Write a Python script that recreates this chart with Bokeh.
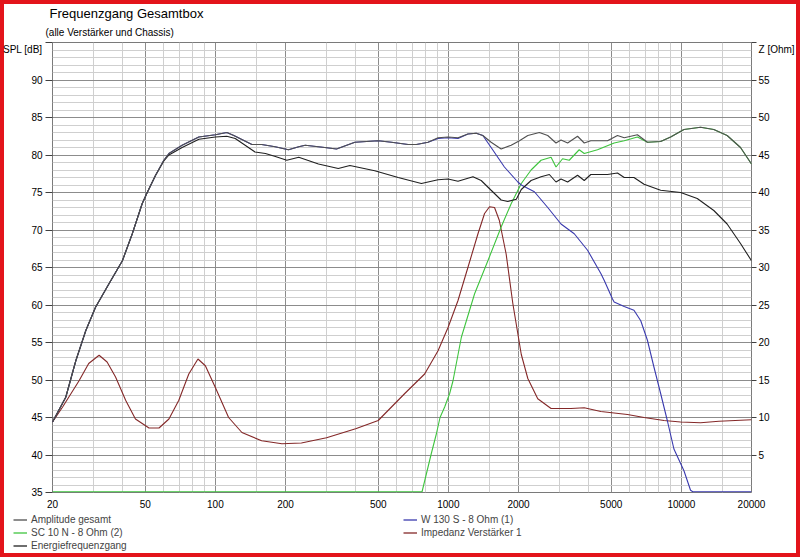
from bokeh.plotting import figure
from bokeh.layouts import column
from bokeh.models import (Range1d, LinearAxis, FixedTicker, Legend, LegendItem,
                          Title, BasicTickFormatter)
from bokeh.embed import file_html
from bokeh.resources import INLINE

# ---------------- data ----------------
X_TICKS = [20, 50, 100, 200, 500, 1000, 2000, 5000, 10000, 20000]
X_MINOR = [30, 40, 60, 70, 80, 90, 150, 300, 400, 600, 700, 800, 900, 1500,
           3000, 4000, 6000, 7000, 8000, 9000, 15000]
SPL_TICKS = [35, 40, 45, 50, 55, 60, 65, 70, 75, 80, 85, 90]
Z_TICKS = [5, 10, 15, 20, 25, 30, 35, 40, 45, 50, 55]

amp_f = [20, 22.8, 25.2, 27.8, 30.6, 34.9, 39.9, 44, 48.5, 51, 55.4, 60.1, 63.2, 72,
         84.9, 100, 112, 120, 143.5, 158, 180.6, 206, 228, 243, 295, 331, 397, 500,
         570, 672, 729, 818, 903, 997, 1100, 1213, 1317, 1406, 1526, 1685, 1860, 2019,
         2193, 2458, 2670, 2897, 3044, 3250, 3585, 3830, 4087, 4820, 5319, 5685, 6477,
         7150, 8148, 8994, 10260, 12087, 13780, 15720, 17940, 20000]
amp_db = [44.4, 47.7, 52.6, 56.6, 59.7, 62.8, 65.9, 69.5, 73.5, 75.0, 77.3, 79.3, 80.2,
          81.3, 82.4, 82.7, 83.0, 82.6, 81.4, 81.4, 81.1, 80.7, 81.1, 81.3, 81.0, 80.8,
          81.7, 81.9, 81.7, 81.4, 81.4, 81.7, 82.3, 82.4, 82.3, 82.8, 82.9, 82.6, 81.7,
          80.8, 81.3, 81.9, 82.6, 83.0, 82.6, 81.6, 82.0, 81.6, 82.5, 81.6, 81.9, 81.9,
          82.6, 82.3, 82.7, 81.7, 81.8, 82.4, 83.4, 83.7, 83.4, 82.6, 81.0, 78.8]

en_f = [20, 22.8, 25.2, 27.8, 30.6, 34.9, 39.9, 44, 48.5, 51, 55.4, 60.1, 63.2, 72, 85,
        100, 112, 121.7, 148, 164, 181, 202.6, 228, 277, 337, 378, 483, 609, 766, 903,
        997, 1100, 1275, 1383, 1526, 1685, 1799, 1957, 2056, 2265, 2499, 2713, 2897,
        3044, 3250, 3585, 3830, 4087, 4820, 5319, 5685, 6259, 6917, 8148, 9930, 11700,
        13780, 15720, 17940, 20000]
en_db = [44.4, 47.7, 52.6, 56.6, 59.7, 62.8, 65.9, 69.5, 73.5, 75.0, 77.3, 79.2, 80.0,
         81.0, 82.1, 82.4, 82.5, 82.2, 80.4, 80.2, 79.8, 79.3, 79.7, 78.8, 78.2, 78.6,
         77.9, 77.0, 76.2, 76.7, 76.8, 76.5, 77.1, 76.6, 75.3, 74.0, 73.8, 74.1, 75.4,
         76.6, 77.1, 77.4, 76.4, 76.8, 76.4, 77.3, 76.6, 77.4, 77.4, 77.6, 77.0, 77.0,
         76.1, 75.3, 75.0, 74.2, 72.6, 70.8, 68.2, 65.9]

w130_f = [20, 22.8, 25.2, 27.8, 30.6, 34.9, 39.9, 44, 48.5, 51, 55.4, 60.1, 63.2, 72,
          84.9, 100, 112, 120, 143.5, 158, 180.6, 206, 228, 243, 295, 331, 397, 500,
          570, 672, 729, 818, 903, 997, 1100, 1213, 1317, 1406, 1526, 1740, 1987, 2056,
          2340, 2670, 3044, 3470, 3958, 4513, 4663, 5064, 5146, 5685, 6259, 6695, 7150,
          7630, 8148, 8702, 9292, 10260, 10950, 11200, 20000]
w130_db = [44.4, 47.7, 52.6, 56.6, 59.7, 62.8, 65.9, 69.5, 73.5, 75.0, 77.3, 79.3, 80.2,
           81.3, 82.4, 82.7, 83.0, 82.6, 81.4, 81.4, 81.1, 80.7, 81.1, 81.3, 81.0, 80.8,
           81.7, 81.9, 81.7, 81.4, 81.4, 81.7, 82.2, 82.3, 82.2, 82.8, 82.9, 82.6, 81.0,
           78.4, 76.4, 76.0, 75.1, 73.0, 70.8, 69.5, 67.3, 64.2, 63.3, 60.8, 60.4, 59.8,
           59.3, 57.9, 55.3, 51.7, 48.2, 44.6, 40.8, 37.9, 35.3, 35.1, 35.1]

sc10_f = [20, 771, 845, 888, 921, 964, 1013, 1047, 1137, 1296, 1478, 1685, 1860, 2056,
          2265, 2499, 2759, 2897, 3092, 3302, 3644, 3830, 4366, 5146, 5685, 6477, 7150,
          8148, 8994, 10260, 12087, 13780, 15720, 17940, 20000]
sc10_db = [35.1, 35.1, 40.2, 42.8, 45.0, 46.4, 48.2, 49.9, 55.7, 61.5, 65.9, 70.4, 73.5,
           76.2, 78.0, 79.3, 79.7, 78.4, 79.5, 79.3, 80.7, 80.2, 80.7, 81.6, 81.9, 82.4,
           81.7, 81.8, 82.4, 83.4, 83.7, 83.4, 82.6, 81.0, 78.8]

imp_f = [20, 22.1, 26, 28.6, 31.7, 34.3, 37.3, 41.2, 45.4, 51.9, 57.3, 63.2, 69.7, 76.9,
         84.2, 90.6, 100, 114, 130, 158, 193, 234, 300, 400, 500, 650, 791, 903, 997,
         1100, 1213, 1340, 1430, 1502, 1578, 1654, 1770, 1891, 2056, 2193, 2419, 2759,
         3360, 3830, 4513, 5870, 6917, 8420, 9930, 12087, 14500, 20000]
imp_ohm = [9.4, 11.4, 14.9, 17.2, 18.3, 17.4, 15.4, 12.3, 9.8, 8.6, 8.6, 9.8, 12.3, 15.8,
           17.8, 16.9, 14.0, 10.0, 8.0, 6.9, 6.5, 6.6, 7.3, 8.5, 9.6, 13.2, 15.8, 18.9,
           22.0, 25.6, 30.0, 34.5, 37.2, 38.1, 38.0, 36.3, 31.8, 25.2, 18.4, 15.2, 12.5,
           11.2, 11.2, 11.3, 10.8, 10.4, 10.0, 9.6, 9.4, 9.3, 9.5, 9.7]

TITLE = "Frequenzgang Gesamtbox"
SUBTITLE = "(alle Verstärker und Chassis)"
SPL_LABEL = "SPL [dB]"
Z_LABEL = "Z [Ohm]"

SERIES = [  # legend label, colour
    ("Amplitude gesamt", "#505050"),
    ("SC 10 N - 8 Ohm (2)", "#3ec43e"),
    ("Energiefrequenzgang", "#202020"),
    ("W 130 S - 8 Ohm (1)", "#3a3aae"),
    ("Impedanz Verstärker 1", "#842828"),
]
COL = dict(SERIES)

FONT = "Liberation Sans"
MAJOR_GRID = "#8c8c8c"
MINOR_GRID = "#cfcfcf"

# ---------------- main chart ----------------
p1 = figure(width=800, height=512, x_axis_type="log", x_range=(20, 20000),
            y_range=(35, 95), output_backend="svg", toolbar_location=None,
            min_border_left=50, min_border_right=49, min_border_top=42,
            min_border_bottom=20, background_fill_color="white",
            border_fill_color="white", border_fill_alpha=0.0,
            outline_line_color="#7a7a7a")
p1.extra_y_ranges = {"z": Range1d(0, 60)}

xa = p1.xaxis[0]
xa.ticker = FixedTicker(ticks=X_TICKS)
xa.formatter = BasicTickFormatter(use_scientific=False)
xa.major_tick_out = 0
xa.major_tick_in = 0
xa.minor_tick_line_color = None
xa.axis_line_color = None
xa.major_label_standoff = 7
xa.major_label_text_font = FONT
xa.major_label_text_font_size = "10px"
xa.major_label_text_color = "black"

ya = p1.yaxis[0]
ya.ticker = FixedTicker(ticks=SPL_TICKS + [95])
ya.major_label_overrides = {95: "\u00a0\n" + SPL_LABEL}
ya.major_tick_out = 7
ya.major_tick_in = 0
ya.major_tick_line_color = "#404040"
ya.minor_tick_line_color = None
ya.axis_line_color = None
ya.major_label_standoff = 3
ya.major_label_text_font = FONT
ya.major_label_text_font_size = "10px"
ya.major_label_text_color = "black"

za = LinearAxis(y_range_name="z", ticker=FixedTicker(ticks=Z_TICKS + [60]),
                major_label_overrides={60: "\u00a0\n" + Z_LABEL},
                major_tick_out=5, major_tick_in=0, major_tick_line_color="#404040",
                minor_tick_line_color=None, axis_line_color=None,
                major_label_standoff=2, major_label_text_font=FONT,
                major_label_text_font_size="10px", major_label_text_color="black")
p1.add_layout(za, "right")

p1.xgrid.ticker = FixedTicker(ticks=X_TICKS, minor_ticks=X_MINOR)
p1.xgrid.grid_line_color = MAJOR_GRID
p1.xgrid.minor_grid_line_color = MINOR_GRID
p1.ygrid.ticker = FixedTicker(ticks=SPL_TICKS + [95],
                              minor_ticks=[v for v in range(36, 95) if v % 5])
p1.ygrid.grid_line_color = MAJOR_GRID
p1.ygrid.minor_grid_line_color = MINOR_GRID

p1.line(imp_f, imp_ohm, y_range_name="z", line_color=COL["Impedanz Verstärker 1"], line_width=1.1)
p1.line(sc10_f, sc10_db, line_color=COL["SC 10 N - 8 Ohm (2)"], line_width=1.1)
p1.line(w130_f, w130_db, line_color=COL["W 130 S - 8 Ohm (1)"], line_width=1.1)
p1.line(en_f, en_db, line_color=COL["Energiefrequenzgang"], line_width=1.1)
p1.line(amp_f, amp_db, line_color=COL["Amplitude gesamt"], line_width=1.1)

p1.add_layout(Title(text=SUBTITLE, align="left", offset=-7, standoff=10,
                    text_font=FONT, text_font_size="10px", text_font_style="normal",
                    text_color="black"), "above")
p1.add_layout(Title(text=TITLE, align="left", offset=-3, standoff=-2,
                    text_font=FONT, text_font_size="13px", text_font_style="normal",
                    text_color="black"), "above")

# ---------------- legend strip ----------------
p2 = figure(width=800, height=45, x_range=(0, 1), y_range=(0, 1),
            output_backend="svg", toolbar_location=None,
            x_axis_location=None, y_axis_location=None,
            min_border_left=0, min_border_right=0, min_border_top=0,
            min_border_bottom=0, background_fill_alpha=0.0,
            border_fill_alpha=0.0, outline_line_color=None)
p2.grid.visible = False
for f in (p1, p2):
    if "frame_align" in f.properties():
        f.frame_align = False

items = []
for label, color in SERIES:
    # legend proxy: a single point outside the strip's range draws nothing itself
    r = p2.line(x=[-1.0], y=[-1.0], line_color=color, line_width=1.3)
    items.append(LegendItem(label=label, renderers=[r]))
legend = Legend(items=items, orientation="vertical", nrows=3, location=(13, 5),
                border_line_color=None, background_fill_alpha=0, padding=0,
                margin=0, spacing=0, glyph_width=14, glyph_height=13,
                label_height=13, label_width=372, label_standoff=4,
                label_text_font=FONT, label_text_font_size="10px")
p2.add_layout(legend)

p = column(p1, p2, spacing=0)
p.styles = {"outline": "4px solid #e3141b", "outline-offset": "-4px"}

open("out.html", "w").write(file_html(p, INLINE))
